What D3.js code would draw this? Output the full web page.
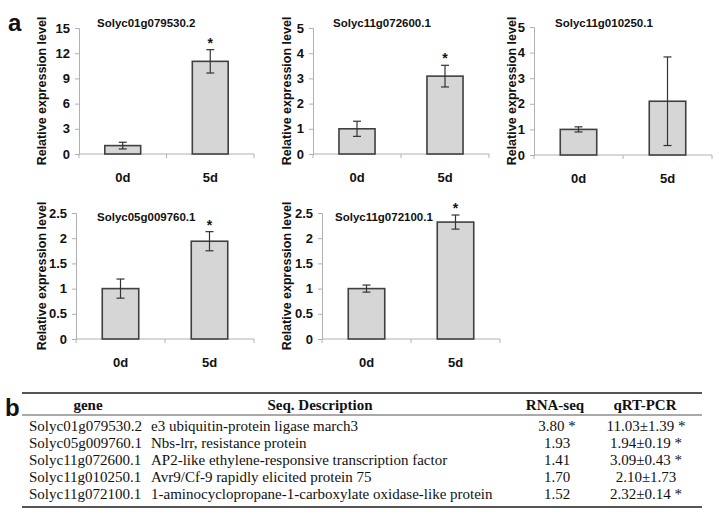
<!DOCTYPE html>
<html><head><meta charset="utf-8">
<script src="https://cdn.jsdelivr.net/npm/d3@7"></script>
<style>body{margin:0;background:#fff} svg{display:block}</style>
</head><body>
<script>
// ---------- DATA ----------
const genes = ["Solyc01g079530.2","Solyc11g072600.1","Solyc11g010250.1","Solyc05g009760.1","Solyc11g072100.1"];
const days = ["0d","5d"];
const mean0d = [1.00, 1.00, 1.00, 1.00, 1.00];
const err0d  = [0.40, 0.30, 0.10, 0.19, 0.07];
const mean5d = [11.03, 3.09, 2.10, 1.94, 2.32];
const err5d  = [1.39, 0.43, 1.73, 0.19, 0.14];
const sig5d  = [true, true, false, true, true];
const yMax   = [15, 5, 5, 2.5, 2.5];
const yTicks = [[0,3,6,9,12,15],[0,1,2,3,4,5],[0,1,2,3,4,5],[0,0.5,1,1.5,2,2.5],[0,0.5,1,1.5,2,2.5]];
const yLabel = "Relative expression level";

const tableHeader = ["gene","Seq. Description","RNA-seq","qRT-PCR"];
const tableGenes = ["Solyc01g079530.2","Solyc05g009760.1","Solyc11g072600.1","Solyc11g010250.1","Solyc11g072100.1"];
const tableDesc = ["e3 ubiquitin-protein ligase march3","Nbs-lrr, resistance protein","AP2-like ethylene-responsive transcription factor","Avr9/Cf-9 rapidly elicited protein 75","1-aminocyclopropane-1-carboxylate oxidase-like protein"];
const tableRnaSeq = ["3.80 *","1.93","1.41","1.70","1.52"];
const tableQpcr = ["11.03\u00b11.39 *","1.94\u00b10.19 *","3.09\u00b10.43 *","2.10\u00b11.73","2.32\u00b10.14 *"];

// ---------- LAYOUT ----------
const W = 720, H = 521;
const frames = [
  {l:79,  r:254, t:28,  b:154, ylab:42,  tx:97,  ty:27},
  {l:313, r:489, t:28,  b:154, ylab:287, tx:333, ty:27},
  {l:534, r:712, t:27,  b:155, ylab:512, tx:555, ty:27},
  {l:76,  r:254, t:213, b:339, ylab:42,  tx:97,  ty:221},
  {l:322, r:500, t:213, b:339, ylab:287, tx:335, ty:221}
];
const sans = "'Liberation Sans', Arial, sans-serif";
const serif = "'Liberation Serif', 'Times New Roman', serif";
const axisCol = "#b0b0b0", barFill = "#d6d6d6", barStroke = "#404040", ink = "#111";

const svg = d3.select("body").append("svg").attr("width", W).attr("height", H);

svg.append("text").attr("x", 8).attr("y", 31).text("a")
  .attr("font-family", sans).attr("font-weight", "bold").attr("font-size", 24).attr("fill", ink);
svg.append("text").attr("x", 5).attr("y", 416).text("b")
  .attr("font-family", sans).attr("font-weight", "bold").attr("font-size", 24).attr("fill", ink);

genes.forEach((g, i) => {
  const f = frames[i];
  const x = d3.scaleBand().domain(days).range([f.l, f.r]).padding(0);
  const y = d3.scaleLinear().domain([0, yMax[i]]).range([f.b, f.t]);
  const G = svg.append("g");
  const bw = x.bandwidth() * 0.41;
  const means = [mean0d[i], mean5d[i]];
  const errs = [err0d[i], err5d[i]];

  // y axis
  const ya = G.append("g").attr("transform", `translate(${f.l},0)`)
    .call(d3.axisLeft(y).tickValues(yTicks[i]).tickSize(4).tickPadding(5).tickFormat(d3.format("")));
  ya.select(".domain").attr("stroke", axisCol);
  ya.selectAll(".tick line").attr("stroke", axisCol);
  ya.selectAll("text").attr("font-family", sans).attr("font-weight", "bold").attr("font-size", 13).attr("fill", ink);

  // x axis line with boundary ticks
  G.append("line").attr("x1", f.l).attr("x2", f.r).attr("y1", y(0)).attr("y2", y(0)).attr("stroke", axisCol);
  const bounds = [x(days[0]), x(days[1]), x(days[1]) + x.bandwidth()];
  G.selectAll(".xt").data(bounds).join("line")
    .attr("x1", d => d).attr("x2", d => d).attr("y1", y(0)).attr("y2", y(0) + 4).attr("stroke", axisCol);
  G.selectAll(".xl").data(days).join("text")
    .attr("x", d => x(d) + x.bandwidth() / 2).attr("y", f.b + 28)
    .attr("text-anchor", "middle").text(d => d)
    .attr("font-family", sans).attr("font-weight", "bold").attr("font-size", 13).attr("fill", ink);

  // bars
  G.selectAll(".bar").data(days).join("rect")
    .attr("x", d => x(d) + x.bandwidth() / 2 - bw / 2).attr("width", bw)
    .attr("y", (d, j) => y(means[j])).attr("height", (d, j) => y(0) - y(means[j]))
    .attr("fill", barFill).attr("stroke", barStroke).attr("stroke-width", 1.6);

  // error bars
  days.forEach((d, j) => {
    const cx = x(d) + x.bandwidth() / 2;
    const y1 = y(means[j] + errs[j]), y2 = y(means[j] - errs[j]);
    G.append("line").attr("x1", cx).attr("x2", cx).attr("y1", y1).attr("y2", y2).attr("stroke", "#333").attr("stroke-width", 1.2);
    [y1, y2].forEach(yy => G.append("line").attr("x1", cx - 4).attr("x2", cx + 4).attr("y1", yy).attr("y2", yy).attr("stroke", "#333").attr("stroke-width", 1.2));
    if (j === 1 && sig5d[i]) {
      G.append("text").attr("x", cx).attr("y", y1 - 2).attr("text-anchor", "middle").text("*")
        .attr("font-family", sans).attr("font-weight", "bold").attr("font-size", 14).attr("fill", ink);
    }
  });

  // title
  G.append("text").attr("x", f.tx).attr("y", f.ty).text(g)
    .attr("font-family", sans).attr("font-weight", "bold").attr("font-size", 11.5).attr("fill", ink);

  // y label
  G.append("text").attr("transform", `translate(${f.ylab},${(f.t + f.b) / 2}) rotate(-90)`)
    .attr("text-anchor", "middle").attr("dy", "0.35em").text(yLabel)
    .attr("font-family", sans).attr("font-weight", "bold").attr("font-size", 12.5).attr("fill", ink);
});

// ---------- TABLE ----------
const T = svg.append("g");
const tl = 22, tr = 702;
const lineCol = "#555";
T.append("line").attr("x1", tl).attr("x2", tr).attr("y1", 393).attr("y2", 393).attr("stroke", lineCol).attr("stroke-width", 2);
T.append("line").attr("x1", tl).attr("x2", tr).attr("y1", 415).attr("y2", 415).attr("stroke", lineCol).attr("stroke-width", 1.2);
T.append("line").attr("x1", tl).attr("x2", tr).attr("y1", 507).attr("y2", 507).attr("stroke", lineCol).attr("stroke-width", 2);

const hx = [88, 320, 555, 645];
T.selectAll(".hd").data(tableHeader).join("text")
  .attr("x", (d, k) => hx[k]).attr("y", 410).attr("text-anchor", "middle").text(d => d)
  .attr("font-family", serif).attr("font-weight", "bold").attr("font-size", 15).attr("fill", ink);

const rowY = d3.range(tableGenes.length).map(k => 431 + k * 17);
tableGenes.forEach((g, k) => {
  const yy = rowY[k];
  const cells = [
    {t: g, x: 29, a: "start"},
    {t: tableDesc[k], x: 151, a: "start"},
    {t: tableRnaSeq[k], x: 557, a: "middle"},
    {t: tableQpcr[k], x: 646, a: "middle"}
  ];
  cells.forEach(c => T.append("text").attr("x", c.x).attr("y", yy).attr("text-anchor", c.a).text(c.t)
    .attr("font-family", serif).attr("font-size", 15).attr("fill", ink));
});
</script>
</body></html>
